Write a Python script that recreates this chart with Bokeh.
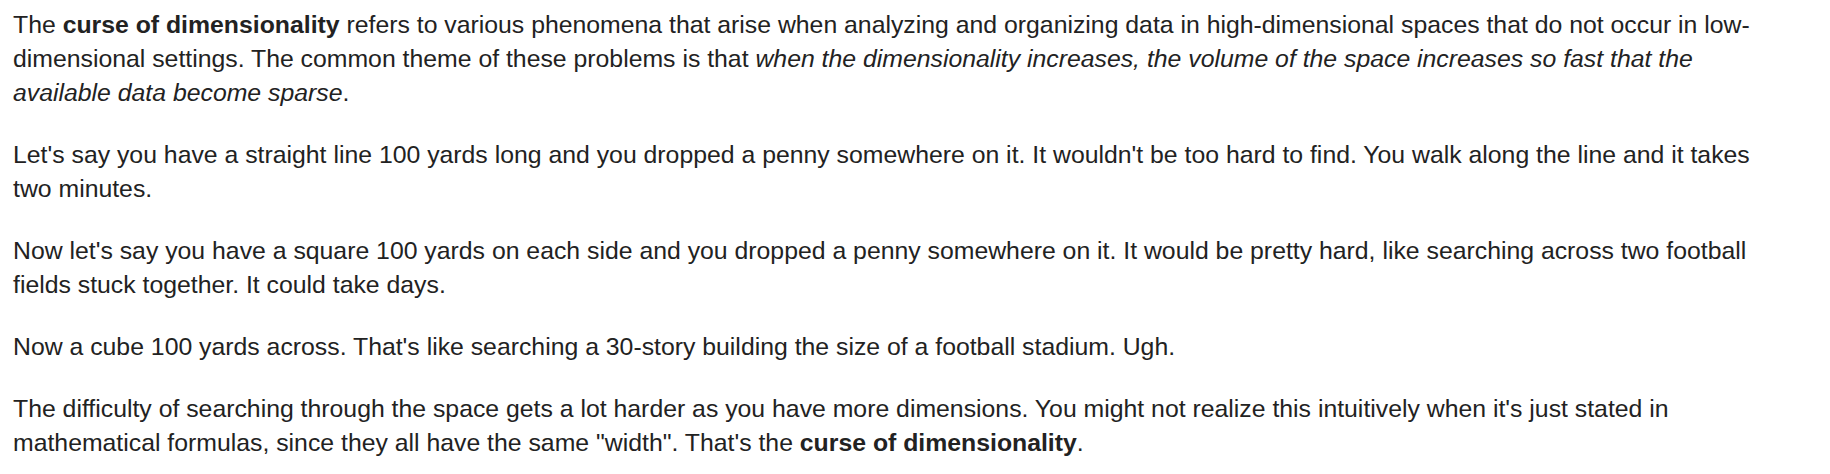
from bokeh.models import Div
from bokeh.embed import file_html
from bokeh.resources import INLINE

term = "curse of dimensionality"

paragraphs = [
    "The <b>{t}</b> refers to various phenomena that arise when analyzing and organizing data in "
    "high-dimensional spaces that do not occur in low-dimensional settings. The common theme of these "
    "problems is that <i>when the dimensionality increases, the volume of the space increases so fast "
    "that the available data become sparse</i>.",
    "Let's say you have a straight line 100 yards long and you dropped a penny somewhere on it. "
    "It wouldn't be too hard to find. You walk along the line and it takes two minutes.",
    "Now let's say you have a square 100 yards on each side and you dropped a penny somewhere on it. "
    "It would be pretty hard, like searching across two football fields stuck together. It could take days.",
    "Now a cube 100 yards across. That's like searching a 30-story building the size of a football stadium. Ugh.",
    "The difficulty of searching through the space gets a lot harder as you have more dimensions. "
    "You might not realize this intuitively when it's just stated in mathematical formulas, since they "
    "all have the same \"width\". That's the <b>{t}</b>.",
]

html = "".join(
    '<p style="margin:0 0 28px 0;">{}</p>'.format(p.format(t=term)) for p in paragraphs
)

div = Div(
    text=html,
    width=1790,
    height=450,
    styles={
        "font-family": "'Liberation Sans', Arial, Helvetica, sans-serif",
        "font-size": "24.8px",
        "line-height": "34px",
        "color": "#222222",
        "padding-left": "8px",
        "padding-top": "3px",
    },
)

open("out.html", "w").write(file_html(div, INLINE))
